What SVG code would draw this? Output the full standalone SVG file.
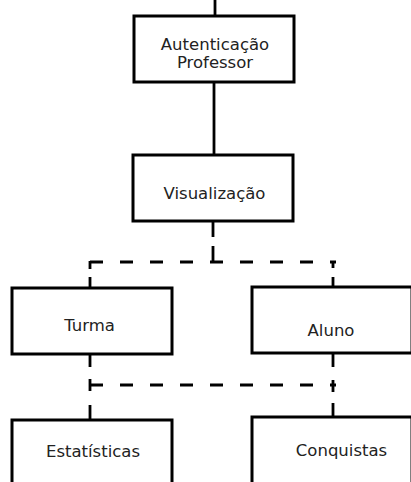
<svg xmlns="http://www.w3.org/2000/svg" width="411" height="482" viewBox="0 0 411 482">
<style>
.box{fill:#fff;stroke:#000;stroke-width:3}
.t{font-family:"DejaVu Sans",Verdana,sans-serif;font-size:16.5px;fill:#222;text-anchor:middle}
.solid{fill:none;stroke:#000;stroke-width:2.8}
.dash{fill:none;stroke:#000;stroke-width:2.8;stroke-dasharray:13 17}
</style>
<rect width="411" height="482" fill="#fff"/>
<g id="connectors">
<path class="solid" d="M215 0V16"/>
<path class="solid" d="M214 82V155"/>
<path class="solid" d="M213 221V237M213 246V262"/>
<path class="dash" d="M90 262H336"/>
<path class="solid" d="M90 261V269M90 277V288"/>
<path class="solid" d="M333 261V268M333 277V288"/>
<path class="dash" d="M90 385H336"/>
<path class="solid" d="M90 354V367M90 379V391M90 405V420"/>
<path class="solid" d="M333 353V367M333 380V392M333 403V417"/>
</g>
<g id="n-auth">
<rect class="box" x="134" y="16" width="160" height="66"/>
<text class="t" x="215" y="50">Autenticação</text>
<text class="t" x="215" y="68">Professor</text>
</g>
<g id="n-vis">
<rect class="box" x="133" y="155" width="160" height="66"/>
<text class="t" x="214.5" y="199">Visualização</text>
</g>
<g id="n-turma">
<rect class="box" x="12" y="288" width="160" height="66"/>
<text class="t" x="89.5" y="331">Turma</text>
</g>
<g id="n-aluno">
<rect class="box" x="252" y="287" width="160" height="66"/>
<text class="t" x="331" y="336">Aluno</text>
</g>
<g id="n-estat">
<rect class="box" x="12" y="420" width="160" height="70"/>
<text class="t" x="93" y="457">Estatísticas</text>
</g>
<g id="n-conq">
<rect class="box" x="252" y="417" width="160" height="70"/>
<text class="t" x="341.5" y="456">Conquistas</text>
</g>
</svg>
